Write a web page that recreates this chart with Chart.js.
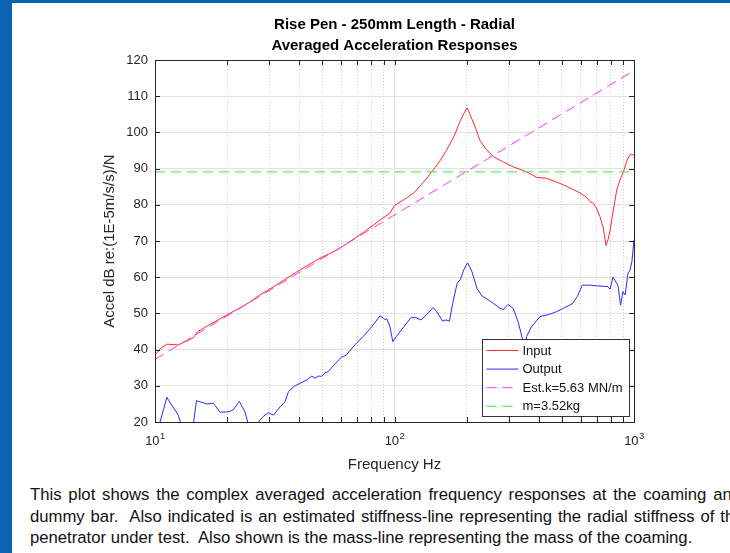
<!DOCTYPE html>
<html>
<head>
<meta charset="utf-8">
<title>Rise Pen - Radial</title>
<script src="https://cdn.jsdelivr.net/npm/chart.js@4.4.1/dist/chart.umd.min.js"></script>
<style>
  html, body { margin: 0; padding: 0; }
  body {
    width: 730px; height: 553px; position: relative; overflow: hidden;
    background: #0a63b0;
    font-family: "Liberation Sans", Arial, sans-serif;
  }
  #panel { position: absolute; left: 12px; top: 3px; right: 0; bottom: 0; background: #fff; }
  #wrap { position: absolute; left: 0; top: 0; width: 730px; height: 475px; }
  .note { position: absolute; left: 30px; white-space: pre; font-size: 16.7px; line-height: 19px; color: #111; }
</style>
</head>
<body>
<div id="panel"></div>
<div id="wrap"><canvas id="chart" width="730" height="475"></canvas></div>
<div class="note" style="top:484.5px; word-spacing:2.2px">This plot shows the complex averaged acceleration frequency responses at the coaming and</div>
<div class="note" style="top:506.5px; word-spacing:1.25px">dummy bar.  Also indicated is an estimated stiffness-line representing the radial stiffness of the</div>
<div class="note" style="top:527.5px">penetrator under test.  Also shown is the mass-line representing the mass of the coaming.</div>
<script>
const FONT = '"Liberation Sans", Arial, sans-serif';

// axis limits and tick labels
const xMin = 10, xMax = 1000;
const yMin = 20, yMax = 120, yStep = 10;
const xMajorTicks = [10, 100, 1000];
const xMajorExp = ['1', '2', '3'];
const xMinorTicks = [20, 30, 40, 50, 60, 70, 80, 90, 200, 300, 400, 500, 600, 700, 800, 900];

// Input (coaming) response
const inputFreq = [10, 10.5, 11.2, 12.5, 13.5, 14.4, 15.1, 16.5, 18.7, 20.5, 22.6, 25, 27.4, 32, 40.3, 48, 57.4, 65, 75, 87, 95.7, 100, 110, 120, 132, 145, 155, 165, 177, 187.6, 195, 201, 208, 217, 227, 240, 259, 285, 313, 356, 392, 432, 470, 507, 550, 595, 630, 655, 677, 700, 721, 745, 764, 780, 795, 820, 847, 875, 903, 935, 962, 980, 1000];
const inputDb = [38.5, 40.2, 41.5, 41.3, 42.3, 43.2, 45.0, 46.5, 48.5, 50.0, 51.5, 53.2, 55.1, 57.8, 62.0, 65.0, 67.5, 69.8, 72.6, 75.8, 77.7, 79.8, 81.5, 83.2, 86.2, 89.6, 92.2, 95.1, 98.8, 103.0, 105.3, 106.8, 104.5, 101.6, 97.9, 95.5, 93.3, 91.8, 90.5, 89.1, 87.6, 87.3, 86.4, 85.5, 84.4, 83.3, 82.2, 80.9, 80.4, 78.8, 76.7, 73.5, 68.7, 70.5, 73.0, 78.5, 84.1, 87.0, 89.1, 92.3, 93.8, 94.0, 93.6];

// Output (dummy bar) response
const outputFreq = [10, 10.5, 11.2, 12.5, 13.5, 14.5, 14.9, 16.4, 17.5, 18.7, 20.2, 21.2, 22.5, 23.75, 24.4, 26, 27.3, 28.3, 29.7, 31.2, 33.3, 34.9, 36.1, 38, 40.3, 43, 45.2, 46.6, 48.1, 49.6, 51.3, 52.9, 56, 60, 63, 68, 74, 80.3, 87, 89.9, 91.4, 92.8, 95.7, 98.4, 101.7, 110, 117, 122, 129, 136, 145, 150, 159, 164, 169.6, 175, 182.6, 188.5, 194.6, 202, 210.6, 221, 232, 251, 276, 285, 298, 313, 328, 342, 349, 356, 373, 405, 445, 475, 507, 551, 579, 608, 659, 704, 777, 795, 816, 857, 879, 899, 919, 943, 963, 980, 1000];
const outputDb = [14, 20, 26.8, 21.9, 15, 20, 25.9, 25.0, 25.2, 22.7, 22.8, 23.3, 25.7, 22.8, 20, 15, 20.4, 21.5, 22.6, 21.9, 24.2, 25.6, 28.4, 29.8, 30.7, 31.6, 32.7, 32.1, 32.7, 32.6, 33.6, 33.9, 35.8, 37.9, 38.5, 41.2, 43.6, 46.3, 49.3, 48.7, 48.2, 48.6, 46.3, 42.2, 43.6, 46.5, 48.8, 48.9, 48.2, 49.6, 51.6, 50.5, 47.9, 48.2, 47.9, 52.8, 58.3, 59.4, 62.0, 64.0, 61.5, 56.9, 54.8, 53.4, 51.4, 51.1, 52.5, 51.4, 47.7, 43.1, 40.0, 43.6, 46.3, 49.1, 49.8, 50.5, 51.4, 52.6, 54.6, 57.8, 57.8, 57.6, 57.4, 56.7, 60.0, 57.8, 52.3, 56.0, 55.1, 61.0, 62.0, 64.3, 70.3];

// estimated stiffness line and mass line
const stiffFreq = [10, 1000];
const stiffDb = [37.3, 117.1];
const massFreq = [10, 1000];
const massDb = [89.1, 89.1];

function pairs(xs, ys) {
  return xs.map((x, i) => ({ x: x, y: ys[i] }));
}

// MATLAB style box: inward ticks on all four sides, 10^n labels
const boxPlugin = {
  id: 'matlabBox',
  afterDraw(chart) {
    const { ctx, chartArea: a } = chart;
    const x = chart.scales.x, y = chart.scales.y;
    const tl = 5;
    ctx.save();
    ctx.strokeStyle = '#262626';
    ctx.lineWidth = 1;
    ctx.beginPath();
    for (let v = yMin; v <= yMax; v += yStep) {
      const py = Math.round(y.getPixelForValue(v)) + 0.5;
      ctx.moveTo(a.left, py); ctx.lineTo(a.left + tl, py);
      ctx.moveTo(a.right, py); ctx.lineTo(a.right - tl, py);
    }
    xMajorTicks.concat(xMinorTicks).forEach(v => {
      const px = Math.round(x.getPixelForValue(v)) + 0.5;
      ctx.moveTo(px, a.bottom); ctx.lineTo(px, a.bottom - tl);
      ctx.moveTo(px, a.top); ctx.lineTo(px, a.top + tl);
    });
    ctx.stroke();
    ctx.strokeRect(Math.round(a.left) + 0.5, Math.round(a.top) + 0.5,
      Math.round(a.right - a.left), Math.round(a.bottom - a.top));

    ctx.fillStyle = '#262626';
    ctx.textBaseline = 'alphabetic';
    ctx.textAlign = 'left';
    xMajorTicks.forEach((v, i) => {
      const px = x.getPixelForValue(v);
      ctx.font = '13px ' + FONT;
      const w1 = ctx.measureText('10').width;
      ctx.font = '9.5px ' + FONT;
      const w2 = ctx.measureText(xMajorExp[i]).width;
      const start = px - (w1 + w2) / 2;
      ctx.font = '13px ' + FONT;
      ctx.fillText('10', start, a.bottom + 23);
      ctx.font = '9.5px ' + FONT;
      ctx.fillText(xMajorExp[i], start + w1 + 0.5, a.bottom + 16.5);
    });
    ctx.restore();
  }
};

// legend inside the lower right corner of the axes
const legendPlugin = {
  id: 'insideLegend',
  afterDraw(chart) {
    const { ctx, chartArea: a } = chart;
    const bx = Math.round(a.right) - 151.5, by = Math.round(a.bottom) - 82.5;
    const bw = 147, bh = 77;
    ctx.save();
    ctx.fillStyle = '#fff';
    ctx.fillRect(bx, by, bw, bh);
    ctx.strokeStyle = '#333';
    ctx.lineWidth = 1;
    ctx.strokeRect(bx, by, bw, bh);
    ctx.font = '13px ' + FONT;
    ctx.textBaseline = 'middle';
    ctx.textAlign = 'left';
    chart.data.datasets.forEach((ds, i) => {
      const ry = by + 11 + i * 18.6;
      ctx.strokeStyle = ds.borderColor;
      ctx.setLineDash(ds.borderDash || []);
      ctx.beginPath();
      ctx.moveTo(bx + 4, ry);
      ctx.lineTo(bx + 36, ry);
      ctx.stroke();
      ctx.setLineDash([]);
      ctx.fillStyle = '#111';
      ctx.fillText(ds.label, bx + 40, ry + 0.5);
    });
    ctx.restore();
  }
};

const lineStyle = { borderWidth: 1, pointRadius: 0, tension: 0, fill: false };

new Chart(document.getElementById('chart'), {
  type: 'line',
  data: {
    datasets: [
      Object.assign({ label: 'Input', data: pairs(inputFreq, inputDb), borderColor: '#ff2a2a', order: 4 }, lineStyle),
      Object.assign({ label: 'Output', data: pairs(outputFreq, outputDb), borderColor: '#2a2aff', order: 3 }, lineStyle),
      Object.assign({ label: 'Est.k=5.63 MN/m', data: pairs(stiffFreq, stiffDb), borderColor: '#ff33ff', borderDash: [10, 6], order: 2 }, lineStyle),
      Object.assign({ label: 'm=3.52kg', data: pairs(massFreq, massDb), borderColor: '#3ee03e', borderDash: [10, 6], order: 1 }, lineStyle)
    ]
  },
  options: {
    responsive: false,
    animation: false,
    layout: { padding: { left: 0, right: 96, top: 0, bottom: 0 } },
    plugins: {
      legend: { display: false },
      tooltip: { enabled: false },
      title: {
        display: true,
        fullSize: false,
        text: ['Rise Pen - 250mm Length - Radial', 'Averaged Acceleration Responses'],
        color: '#000',
        font: { family: FONT, size: 15, weight: 'bold', lineHeight: 1.427 },
        padding: { top: 13.8, bottom: 3.4 }
      }
    },
    scales: {
      x: {
        type: 'logarithmic',
        position: 'bottom',
        min: xMin, max: xMax,
        afterBuildTicks: s => { s.ticks = xMajorTicks.map(v => ({ value: v, major: true })); },
        afterFit: s => { s.height = 53; },
        ticks: { display: false },
        grid: { color: '#e2e2e2', lineWidth: 1, drawTicks: false },
        border: { display: false },
        title: {
          display: true, text: 'Frequency Hz', color: '#262626',
          font: { family: FONT, size: 15, lineHeight: 1.2 },
          padding: { top: 0, bottom: 1.5 }
        }
      },
      x2: {
        type: 'logarithmic',
        position: 'bottom',
        min: xMin, max: xMax,
        afterBuildTicks: s => { s.ticks = xMinorTicks.map(v => ({ value: v })); },
        afterFit: s => { s.height = 0; },
        ticks: { display: false },
        grid: { color: '#cccccc', lineWidth: 1, drawTicks: false },
        border: { display: false, dash: [1, 2] }
      },
      y: {
        type: 'linear',
        position: 'left',
        min: yMin, max: yMax,
        afterFit: s => { s.width = 155; },
        ticks: { stepSize: yStep, color: '#262626', padding: 7, font: { family: FONT, size: 13 } },
        grid: { color: '#e2e2e2', lineWidth: 1, drawTicks: false },
        border: { display: false },
        title: {
          display: true, text: 'Accel dB re:(1E-5m/s/s)/N', color: '#262626',
          font: { family: FONT, size: 15, lineHeight: 1.2 },
          padding: { top: 101, bottom: 0 }
        }
      }
    }
  },
  plugins: [boxPlugin, legendPlugin]
});
</script>
</body>
</html>
